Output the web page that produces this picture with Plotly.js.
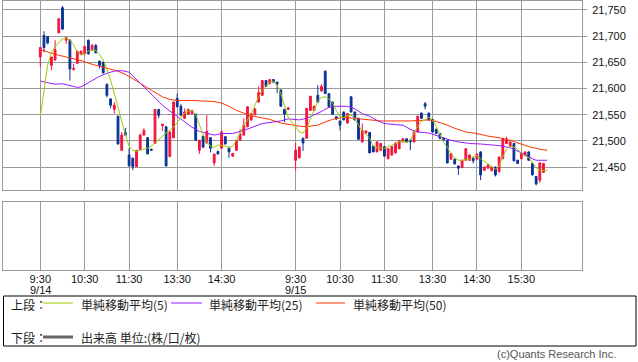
<!DOCTYPE html>
<html>
<head>
<meta charset="utf-8">
<script src="https://cdn.plot.ly/plotly-3.0.1.min.js"></script>
<style>html,body{margin:0;padding:0;background:#fff;}#chart{width:638px;height:362px;}</style>
</head>
<body>
<div id="chart"></div>
<script>
// ---- data (5-minute slots; slot 68 is the overnight gap) ----
const slots = [0,1,2,3,4,5,6,7,8,9,10,11,12,13,14,15,16,17,18,19,20,21,22,23,24,25,26,27,28,29,30,31,32,33,34,35,36,37,38,39,40,41,42,43,44,45,46,47,48,49,50,51,52,53,54,55,56,57,58,59,60,61,62,63,64,65,66,67,
  69,70,71,72,73,74,75,76,77,78,79,80,81,82,83,84,85,86,87,88,89,90,91,92,93,94,95,96,97,98,99,100,101,102,103,104,105,106,107,108,109,110,111,112,113,114,115,116,117,118,119,120,121,122,123,124,125,126,127,128,129,130,131,132,133,134,135,136];
const openP = [21660,21701,21699,21644,21654,21706,21754,21692,21692,21636,21648,21665,21666,21692,21673,21682,21652,21650,21608,21580,21560,21547,21482,21516,21473,21467,21451,21484,21511,21506,21484,21495,21560,21529,21527,21470,21506,21581,21566,21543,21551,21552,21551,21482,21509,21496,21506,21458,21480,21486,21508,21486,21471,21482,21501,21511,21527,21540,21550,21574,21587,21615,21609,21617,21612,21597,21560,21560,
  21463,21468,21505,21505,21558,21558,21587,21595,21633,21590,21574,21546,21538,21555,21534,21584,21555,21543,21498,21515,21516,21490,21479,21482,21489,21466,21473,21477,21485,21498,21504,21501,21498,21517,21553,21571,21553,21541,21522,21514,21505,21501,21465,21465,21452,21449,21463,21463,21467,21465,21479,21444,21448,21443,21450,21441,21466,21495,21490,21495,21463,21466,21473,21479,21457,21432,21425,21440];
const highP = [21678,21709,21700,21660,21692,21733,21757,21698,21694,21647,21672,21672,21680,21693,21685,21685,21653,21652,21609,21581,21574,21548,21517,21525,21486,21468,21482,21514,21524,21507,21485,21560,21561,21532,21528,21518,21575,21590,21570,21562,21561,21559,21552,21502,21510,21549,21507,21475,21481,21520,21509,21489,21477,21502,21522,21543,21566,21553,21562,21604,21616,21616,21617,21618,21613,21598,21561,21564,
  21496,21490,21506,21562,21586,21567,21606,21608,21634,21591,21575,21547,21539,21556,21553,21585,21556,21544,21533,21520,21517,21491,21499,21496,21490,21486,21490,21497,21501,21505,21505,21504,21518,21548,21554,21574,21554,21542,21523,21515,21506,21502,21477,21466,21453,21464,21486,21474,21468,21476,21480,21451,21455,21451,21451,21470,21505,21508,21499,21496,21464,21477,21480,21480,21458,21433,21459,21458];
const lowP = [21641,21669,21684,21635,21653,21705,21713,21685,21615,21634,21647,21663,21664,21665,21672,21667,21638,21628,21583,21562,21552,21493,21481,21510,21452,21444,21450,21483,21510,21475,21481,21494,21543,21519,21452,21469,21505,21564,21548,21542,21550,21551,21501,21475,21487,21495,21478,21452,21474,21485,21493,21468,21469,21481,21500,21510,21526,21538,21549,21573,21586,21603,21608,21611,21591,21565,21536,21559,
  21444,21466,21481,21504,21557,21557,21573,21594,21590,21564,21550,21540,21520,21539,21533,21555,21539,21502,21497,21514,21477,21478,21478,21481,21470,21465,21472,21476,21484,21497,21497,21482,21497,21516,21542,21560,21539,21516,21513,21503,21500,21457,21464,21455,21435,21448,21462,21462,21457,21464,21425,21443,21447,21442,21432,21440,21465,21494,21489,21461,21456,21465,21472,21462,21434,21415,21420,21439];
const closeP = [21678,21678,21687,21660,21674,21733,21713,21697,21637,21638,21671,21671,21680,21666,21682,21668,21644,21630,21587,21568,21568,21494,21511,21511,21452,21451,21482,21511,21520,21475,21482,21560,21549,21532,21452,21517,21574,21565,21549,21555,21560,21558,21501,21501,21488,21518,21486,21475,21475,21517,21494,21479,21476,21501,21513,21530,21565,21552,21561,21592,21615,21604,21617,21612,21608,21566,21551,21563,
  21482,21488,21496,21562,21585,21566,21574,21604,21590,21565,21551,21542,21530,21540,21552,21555,21540,21503,21520,21519,21477,21479,21498,21495,21471,21485,21489,21496,21500,21504,21498,21498,21517,21547,21543,21566,21540,21517,21514,21505,21502,21458,21476,21456,21448,21463,21485,21473,21462,21475,21435,21450,21454,21450,21435,21469,21504,21504,21498,21462,21457,21476,21479,21463,21435,21418,21458,21457];

const ma5Slot = [0,1,2,3,4,5,6,7,8,9,10,11,12,13,14,15,16,17,18,19,20,21,22,23,24,25,26,27,28,29,30,32,34,36,37,38,39,40,41,42,43,44,45,46,47,48,50,51,52,53,54,55,56,57,58,59,60,61,62,63,64,65,66,67,69,70,71,72,73,74,75,76,77,78,79,80,81,82,83,84,85,86,87,88,89,90,91,92,93,94,95,96,97,98,99,100,101,102,103,104,105,106,107,108,109,110,111,112,113,114,115,116,117,118,119,120,121,122,123,124,125,126,127,128,129,130,131,132,133,134,135,136,137];
const ma5 = [21546,21600,21645,21668,21680,21688,21694,21696,21692,21683,21670,21664,21666,21671,21674,21672,21665,21654,21638,21616,21590,21560,21533,21512,21490,21482,21480,21482,21484,21486,21490,21503,21515,21526,21535,21546,21553,21557,21558,21550,21530,21512,21498,21490,21488,21492,21490,21487,21490,21500,21515,21530,21540,21552,21568,21584,21596,21604,21612,21614,21606,21590,21565,21545,21527,21517,21515,21524,21542,21560,21575,21583,21584,21580,21572,21558,21546,21544,21548,21549,21543,21530,21518,21513,21505,21490,21487,21486,21486,21489,21491,21495,21498,21499,21497,21501,21515,21528,21537,21540,21545,21540,21528,21512,21497,21488,21475,21468,21463,21463,21464,21465,21470,21472,21466,21461,21456,21450,21446,21452,21470,21484,21490,21488,21484,21476,21471,21468,21458,21449,21444,21443,21443];
const ma25Slot = [0,2,4,6,8,10,11,12,14,16,18,20,22,24,25,27,29,31,33,35,37,39,41,43,45,47,49,52,55,58,60,63,65,67,70,72,74,76,78,80,83,85,87,89,91,93,96,98,100,102,105,108,111,113,116,119,122,124,127,129,131,133,134,137];
const ma25 = [21614,21611,21608,21609,21605,21602,21603,21607,21616,21623,21629,21633,21634,21631,21624,21609,21596,21582,21568,21557,21547,21536,21526,21518,21514,21511,21514,21514,21520,21528,21533,21536,21538,21542,21540,21543,21549,21556,21564,21566,21566,21561,21552,21547,21539,21533,21531,21530,21522,21517,21515,21508,21501,21498,21495,21494,21493,21491,21487,21481,21474,21466,21463,21463];
const ma50Slot = [0,4,7,11,14,18,21,23,25,27,29,31,33,35,37,41,44,47,49,51,53,55,57,59,62,65,68,70,72,75,77,79,82,85,88,92,96,100,105,107,110,112,115,118,121,124,127,130,132,135,137];
const ma50 = [21674,21665,21660,21653,21646,21639,21633,21627,21619,21610,21601,21592,21584,21579,21577,21577,21576,21575,21572,21566,21558,21553,21548,21545,21541,21534,21530,21528,21527,21530,21536,21541,21545,21543,21540,21538,21538,21538,21540,21537,21530,21524,21517,21514,21509,21506,21501,21493,21489,21484,21482];
const volume = [];

const tickSlots = [0,12,24,37,49,69,81,93,106,118,130];
const tickLabels = ['9:30','10:30','11:30','13:30','14:30','9:30','10:30','11:30','13:30','14:30','15:30'];
const dateSlots = [0,69];
const dateLabels = ['9/14','9/15'];
const priceTicks = [21450,21500,21550,21600,21650,21700,21750];

// ---- styles ----
const UP = '#f5143c', DOWN = '#0a3296';
const C5 = '#99cc00', C25 = '#9a1aff', C50 = '#ff3300';
const GRID = '#9a9a9a';
const FONT = 'Noto Sans CJK JP, Liberation Sans, sans-serif';
const NUMFONT = 'Liberation Sans, Arial, sans-serif';
const W = 638, H = 362;
const px = x => x / W, py = y => 1 - y / H;

const traces = [
  {type:'candlestick', x:slots, open:openP, high:highP, low:lowP, close:closeP,
   xaxis:'x', yaxis:'y', hoverinfo:'skip', whiskerwidth:0,
   increasing:{line:{color:UP,width:1}, fillcolor:UP},
   decreasing:{line:{color:DOWN,width:1}, fillcolor:DOWN}},
  {type:'scatter', mode:'lines', x:ma50Slot, y:ma50, line:{color:C50,width:1}, xaxis:'x', yaxis:'y', hoverinfo:'skip'},
  {type:'scatter', mode:'lines', x:ma25Slot, y:ma25, line:{color:C25,width:1}, xaxis:'x', yaxis:'y', hoverinfo:'skip'},
  {type:'scatter', mode:'lines', x:ma5Slot, y:ma5, line:{color:C5,width:1}, xaxis:'x', yaxis:'y', hoverinfo:'skip'},
  {type:'bar', x:volume.map((v,i)=>slots[i]), y:volume, marker:{color:'#666'}, xaxis:'x2', yaxis:'y2', hoverinfo:'skip'}
];

const xr = [-10.08, 146.4];
const legendAnn = [
  {text:'上段：', x:px(9), y:py(304)},
  {text:'単純移動平均(5)', x:px(79), y:py(304)},
  {text:'単純移動平均(25)', x:px(207), y:py(304)},
  {text:'単純移動平均(50)', x:px(351), y:py(304)},
  {text:'下段：', x:px(9), y:py(337)},
  {text:'出来高 単位:(株/口/枚)', x:px(79), y:py(337)},
  {text:'(c)Quants Research Inc.', x:px(618), y:0, xanchor:'right', yanchor:'bottom', font:{size:11, color:'#555', family:NUMFONT}}
].map(a => Object.assign({xref:'paper', yref:'paper', xanchor:'left', yanchor:'middle', showarrow:false,
    font:{size:12, color:'#222', family:FONT}}, a));
const dateAnn = dateSlots.map((s,i) => ({text:dateLabels[i], xref:'x2', yref:'paper', x:s, y:py(290),
    xanchor:'center', yanchor:'middle', showarrow:false, font:{size:11, color:'#111', family:NUMFONT}}));

const layout = {
  width:W, height:H, margin:{l:0,r:0,t:0,b:0},
  paper_bgcolor:'#fff', plot_bgcolor:'#fff', showlegend:false, boxgap:0.3,
  font:{family:FONT, size:11, color:'#222'},
  xaxis:{domain:[px(3),px(582)], range:xr, anchor:'y', tickvals:tickSlots, showticklabels:false, ticks:'',
    showgrid:true, gridcolor:GRID, gridwidth:1, showline:true, mirror:true, linecolor:GRID, linewidth:1,
    zeroline:false, rangeslider:{visible:false}, fixedrange:true},
  yaxis:{domain:[py(190), py(0.5)], range:[21406.3,21767.7], anchor:'x', side:'right',
    tickvals:priceTicks, tickformat:',d', ticks:'outside', ticklen:4, tickcolor:GRID, ticklabelstandoff:3,
    showgrid:true, gridcolor:GRID, gridwidth:1, showline:true, mirror:true, linecolor:GRID, linewidth:1,
    zeroline:false, fixedrange:true, tickfont:{size:11, color:'#111', family:NUMFONT}},
  xaxis2:{domain:[px(3),px(582)], range:xr, anchor:'y2', tickvals:tickSlots, ticktext:tickLabels, ticks:'',
    ticklabelstandoff:-1,
    showgrid:true, gridcolor:GRID, gridwidth:1, showline:true, mirror:true, linecolor:GRID, linewidth:1,
    zeroline:false, fixedrange:true, tickfont:{size:11, color:'#111', family:NUMFONT}},
  yaxis2:{domain:[py(270), py(202)], range:[0,1], anchor:'x2', showticklabels:false, ticks:'',
    showgrid:false, showline:true, mirror:true, linecolor:GRID, linewidth:1, zeroline:false, fixedrange:true},
  shapes:[
    {type:'rect', xref:'paper', yref:'paper', x0:px(3.5), x1:px(636), y0:py(346), y1:py(296), line:{color:'#000',width:1}},
    {type:'line', xref:'paper', yref:'paper', x0:px(43), x1:px(73), y0:py(303), y1:py(303), line:{color:C5,width:1}},
    {type:'line', xref:'paper', yref:'paper', x0:px(171), x1:px(202), y0:py(303), y1:py(303), line:{color:C25,width:1}},
    {type:'line', xref:'paper', yref:'paper', x0:px(316), x1:px(345), y0:py(303), y1:py(303), line:{color:C50,width:1}},
    {type:'line', xref:'paper', yref:'paper', x0:px(43), x1:px(73), y0:py(337), y1:py(337), line:{color:'#666',width:3}}
  ],
  annotations: legendAnn.concat(dateAnn)
};

Plotly.newPlot('chart', traces, layout, {displayModeBar:false, staticPlot:true});
</script>
</body>
</html>
